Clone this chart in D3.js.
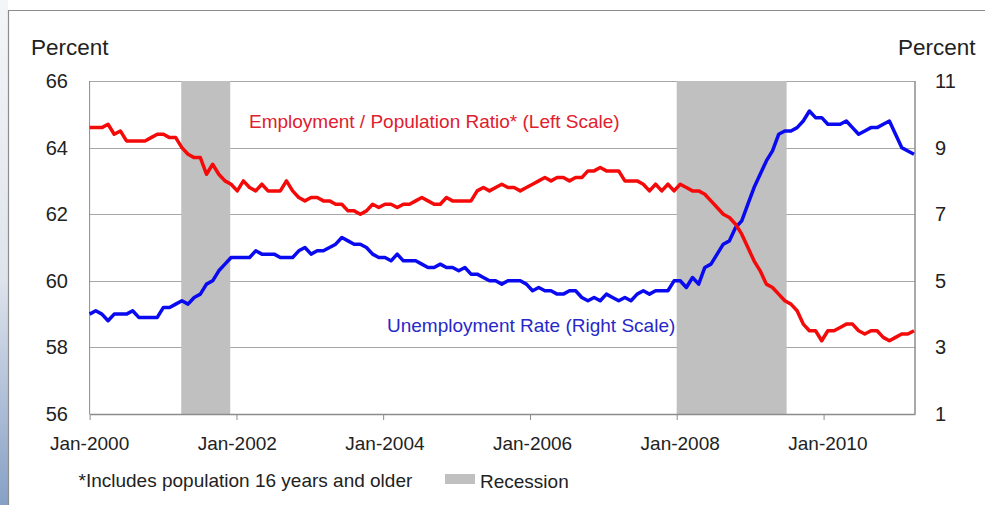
<!DOCTYPE html>
<html>
<head>
<meta charset="utf-8">
<script src="https://cdn.jsdelivr.net/npm/d3@7"></script>
<style>
  body { margin: 0; background: #fff; }
  svg { display: block; font-family: "Liberation Sans", Arial, sans-serif; }
</style>
</head>
<body>
<svg width="985" height="505"></svg>
<script>
// monthly values, Jan-2000 .. Mar-2011
var empPop = [
  64.6, 64.6, 64.6, 64.7, 64.4, 64.5, 64.2, 64.2, 64.2, 64.2, 64.3, 64.4,
  64.4, 64.3, 64.3, 64.0, 63.8, 63.7, 63.7, 63.2, 63.5, 63.2, 63.0, 62.9,
  62.7, 63.0, 62.8, 62.7, 62.9, 62.7, 62.7, 62.7, 63.0, 62.7, 62.5, 62.4,
  62.5, 62.5, 62.4, 62.4, 62.3, 62.3, 62.1, 62.1, 62.0, 62.1, 62.3, 62.2,
  62.3, 62.3, 62.2, 62.3, 62.3, 62.4, 62.5, 62.4, 62.3, 62.3, 62.5, 62.4,
  62.4, 62.4, 62.4, 62.7, 62.8, 62.7, 62.8, 62.9, 62.8, 62.8, 62.7, 62.8,
  62.9, 63.0, 63.1, 63.0, 63.1, 63.1, 63.0, 63.1, 63.1, 63.3, 63.3, 63.4,
  63.3, 63.3, 63.3, 63.0, 63.0, 63.0, 62.9, 62.7, 62.9, 62.7, 62.9, 62.7,
  62.9, 62.8, 62.7, 62.7, 62.6, 62.4, 62.2, 62.0, 61.9, 61.7, 61.4, 61.0,
  60.6, 60.3, 59.9, 59.8, 59.6, 59.4, 59.3, 59.1, 58.7, 58.5, 58.5, 58.2,
  58.5, 58.5, 58.6, 58.7, 58.7, 58.5, 58.4, 58.5, 58.5, 58.3, 58.2, 58.3,
  58.4, 58.4, 58.5
];
var unempRate = [
  4.0, 4.1, 4.0, 3.8, 4.0, 4.0, 4.0, 4.1, 3.9, 3.9, 3.9, 3.9,
  4.2, 4.2, 4.3, 4.4, 4.3, 4.5, 4.6, 4.9, 5.0, 5.3, 5.5, 5.7,
  5.7, 5.7, 5.7, 5.9, 5.8, 5.8, 5.8, 5.7, 5.7, 5.7, 5.9, 6.0,
  5.8, 5.9, 5.9, 6.0, 6.1, 6.3, 6.2, 6.1, 6.1, 6.0, 5.8, 5.7,
  5.7, 5.6, 5.8, 5.6, 5.6, 5.6, 5.5, 5.4, 5.4, 5.5, 5.4, 5.4,
  5.3, 5.4, 5.2, 5.2, 5.1, 5.0, 5.0, 4.9, 5.0, 5.0, 5.0, 4.9,
  4.7, 4.8, 4.7, 4.7, 4.6, 4.6, 4.7, 4.7, 4.5, 4.4, 4.5, 4.4,
  4.6, 4.5, 4.4, 4.5, 4.4, 4.6, 4.7, 4.6, 4.7, 4.7, 4.7, 5.0,
  5.0, 4.8, 5.1, 4.9, 5.4, 5.5, 5.8, 6.1, 6.2, 6.6, 6.8, 7.3,
  7.8, 8.2, 8.6, 8.9, 9.4, 9.5, 9.5, 9.6, 9.8, 10.1, 9.9, 9.9,
  9.7, 9.7, 9.7, 9.8, 9.6, 9.4, 9.5, 9.6, 9.6, 9.7, 9.8, 9.4,
  9.0, 8.9, 8.8
];
var xTicks = ["2000-01", "2002-01", "2004-01", "2006-01", "2008-01", "2010-01"];
var leftTicks = [56, 58, 60, 62, 64, 66];
var rightTicks = [1, 3, 5, 7, 9, 11];
var recessions = [["2001-04", "2001-12"], ["2008-01", "2009-07"]];

var parse = d3.timeParse("%Y-%m");
var startDate = parse("2000-01"), endDate = parse("2011-04");

var svg = d3.select("svg");
var plotLeft = 89.6, plotRight = 915, plotTop = 81, plotBottom = 414;

// dates for ticks and shading, point index for the lines
var xDate = d3.scaleTime().domain([startDate, endDate]).range([plotLeft, plotRight]);
var xIdx = d3.scaleLinear().domain([0, empPop.length - 1]).range([plotLeft, 914]);
var yL = d3.scaleLinear().domain([56, 66]).range([plotBottom, plotTop]);
var yR = d3.scaleLinear().domain([1, 11]).range([plotBottom, plotTop]);

// slide edge + frame
var defs = svg.append("defs");
var grad = defs.append("linearGradient").attr("id", "edge")
    .attr("x1", 0).attr("y1", 0).attr("x2", 0).attr("y2", 1);
grad.append("stop").attr("offset", "0%").attr("stop-color", "#f4f5f8");
grad.append("stop").attr("offset", "55%").attr("stop-color", "#dfe4ec");
grad.append("stop").attr("offset", "100%").attr("stop-color", "#86a0c6");
svg.append("rect").attr("x", 0).attr("y", 0).attr("width", 8).attr("height", 505)
    .attr("fill", "url(#edge)");
svg.append("path").attr("d", "M8.5,520V10.5H990")
    .attr("fill", "none").attr("stroke", "#8c8c8c").attr("stroke-width", 1.2);

// gridlines
svg.append("g").selectAll("line")
    .data(leftTicks.slice(1))
    .enter().append("line")
    .attr("x1", plotLeft).attr("x2", plotRight)
    .attr("y1", function(d) { return Math.round(yL(d)) + 0.5; })
    .attr("y2", function(d) { return Math.round(yL(d)) + 0.5; })
    .attr("stroke", "#a6a6a6").attr("stroke-width", 1);

// recession shading
svg.append("g").selectAll("rect")
    .data(recessions)
    .enter().append("rect")
    .attr("x", function(d) { return xDate(parse(d[0])); })
    .attr("width", function(d) { return xDate(parse(d[1])) - xDate(parse(d[0])); })
    .attr("y", plotTop).attr("height", plotBottom - plotTop)
    .attr("fill", "#c0c0c0");

// axis lines
svg.append("line").attr("x1", plotLeft).attr("x2", plotLeft).attr("y1", plotTop).attr("y2", plotBottom)
    .attr("stroke", "#8c8c8c");
svg.append("line").attr("x1", plotRight).attr("x2", plotRight).attr("y1", plotTop).attr("y2", plotBottom)
    .attr("stroke", "#8c8c8c").attr("stroke-width", 1.5);

var xAxis = d3.axisBottom(xDate)
    .tickValues(xTicks.map(parse))
    .tickSize(6)
    .tickSizeOuter(0)
    .tickFormat("");
var gx = svg.append("g").attr("transform", "translate(0," + plotBottom + ")").call(xAxis);
gx.select(".domain").attr("stroke", "#8c8c8c").attr("stroke-width", 1.5);
gx.selectAll(".tick line").attr("stroke", "#8c8c8c");

// x labels sit on the data points
var fmt = d3.timeFormat("%b-%Y");
svg.append("g").selectAll("text")
    .data(xTicks)
    .enter().append("text")
    .attr("x", function(d) {
        var dt = parse(d);
        var m = (dt.getFullYear() - 2000) * 12 + dt.getMonth();
        return xIdx(m);
    })
    .attr("y", 450)
    .attr("text-anchor", "middle")
    .attr("font-size", 19)
    .attr("fill", "#222")
    .text(function(d) { return fmt(parse(d)); });

// y labels
svg.append("g").selectAll("text")
    .data(leftTicks)
    .enter().append("text")
    .attr("x", 68)
    .attr("y", function(d) { return yL(d) + 7; })
    .attr("text-anchor", "end")
    .attr("font-size", 20)
    .attr("fill", "#222")
    .text(function(d) { return d; });
svg.append("g").selectAll("text")
    .data(rightTicks)
    .enter().append("text")
    .attr("x", 935)
    .attr("y", function(d) { return yR(d) + 7; })
    .attr("font-size", 20)
    .attr("fill", "#222")
    .text(function(d) { return d; });

svg.append("text").attr("x", 31).attr("y", 54.5).attr("font-size", 22.5)
    .attr("fill", "#222").text("Percent");
svg.append("text").attr("x", 898).attr("y", 54.5).attr("font-size", 22.5)
    .attr("fill", "#222").text("Percent");

// lines
var unempLine = d3.line()
    .x(function(d, i) { return xIdx(i); })
    .y(function(d) { return yR(d); });
var empLine = d3.line()
    .x(function(d, i) { return xIdx(i); })
    .y(function(d) { return yL(d); });

svg.append("path").datum(unempRate)
    .attr("d", unempLine)
    .attr("fill", "none").attr("stroke", "#0a0af0").attr("stroke-width", 3.5)
    .attr("stroke-linejoin", "round");
svg.append("path").datum(empPop)
    .attr("d", empLine)
    .attr("fill", "none").attr("stroke", "#f50a0a").attr("stroke-width", 3.5)
    .attr("stroke-linejoin", "round");

// series labels
svg.append("text").attr("x", 249).attr("y", 128).attr("font-size", 19)
    .attr("fill", "#e0202e").text("Employment / Population Ratio* (Left Scale)");
svg.append("text").attr("x", 387).attr("y", 331.5).attr("font-size", 19)
    .attr("fill", "#2828c8").text("Unemployment Rate (Right Scale)");

// footnote + legend
svg.append("text").attr("x", 78.5).attr("y", 487).attr("font-size", 19)
    .attr("fill", "#222").text("*Includes population 16 years and older");
svg.append("rect").attr("x", 445).attr("y", 474).attr("width", 30).attr("height", 10)
    .attr("fill", "#c0c0c0");
svg.append("text").attr("x", 480).attr("y", 487.5).attr("font-size", 19)
    .attr("fill", "#222").text("Recession");
</script>
</body>
</html>
